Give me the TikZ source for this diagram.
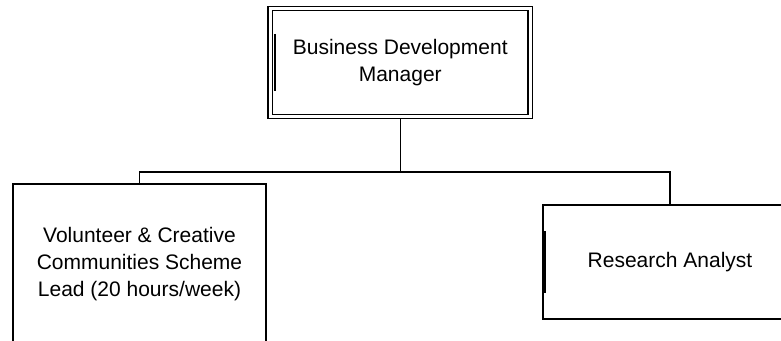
\documentclass[tikz,border=0pt]{standalone}
\usepackage{fontspec}
\setmainfont{Liberation Sans}
\usetikzlibrary{calc}

\begin{document}
\begin{tikzpicture}[x=1pt,y=1pt,line width=1.4pt,
		post/.style={draw,rectangle,inner sep=0pt,align=center,font=\fontsize{21}{27}\selectfont},
		headpost/.style={post,double,double distance=3pt,outer sep=2.9pt}]
		\useasboundingbox (0,0) rectangle (781,340);
		\coordinate (bus) at (400.25,168);
		\node[headpost,minimum width=260pt,minimum height=108pt] (bdm) at (400.25,277.5) {Business Development\\Manager};
		\node[post,minimum width=253pt,minimum height=160pt] (lead) at (139.5,76) {Volunteer \& Creative\\Communities Scheme\\Lead (20 hours/week)};
		\node[post,minimum width=254pt,minimum height=114pt] (analyst) at (670,78) {Research Analyst};
		% thick marks on the left sides
		\draw[line width=2.6pt] ($(bdm.center)+(-125.25,28.5)$) -- ($(bdm.center)+(-125.25,-28.5)$);
		\draw[line width=2.6pt] ($(analyst.west)+(2,30.5)$) -- ($(analyst.west)+(2,-30.5)$);
		% connectors
		\draw (bdm.south) -- (bus);
		\draw (lead.north) |- (bus) -| (analyst.north);
	\end{tikzpicture}
\end{document}
